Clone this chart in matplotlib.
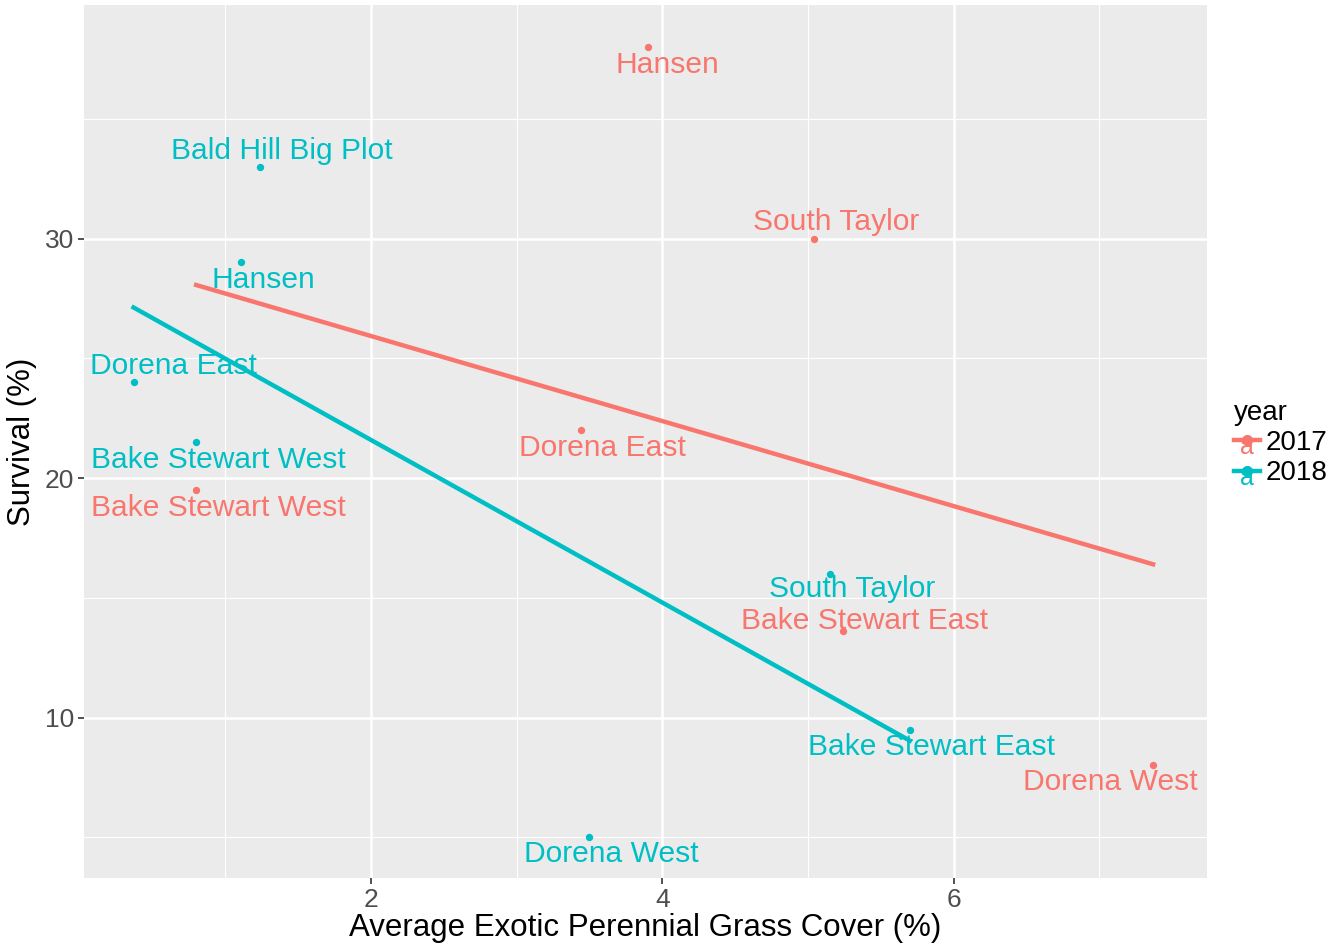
import numpy as np
import matplotlib
matplotlib.use("Agg")
import matplotlib.pyplot as plt
from matplotlib.lines import Line2D
from matplotlib.legend_handler import HandlerLine2D
from matplotlib.text import Text

plt.rcParams['font.family'] = ['Liberation Sans', 'DejaVu Sans']

# data
sites_2017 = ["Hansen", "South Taylor", "Dorena East", "Bake Stewart West",
              "Bake Stewart East", "Dorena West"]
cover_2017 = [3.90, 5.04, 3.44, 0.80, 5.24, 7.37]
surv_2017 = [38.0, 30.0, 22.0, 19.5, 13.6, 8.0]

sites_2018 = ["Bald Hill Big Plot", "Hansen", "Dorena East", "Bake Stewart West",
              "South Taylor", "Bake Stewart East", "Dorena West"]
cover_2018 = [1.24, 1.11, 0.37, 0.80, 5.15, 5.70, 3.50]
surv_2018 = [33.0, 29.0, 24.0, 21.5, 16.0, 9.5, 5.0]

years = ["2017", "2018"]
colors = {"2017": "#F8766D", "2018": "#00BFC4"}

# label offsets (pixels) relative to each point
offs_2017 = [(20, -18), (22, 17), (22, -18), (22, -18), (22, 10), (-43, -17)]
offs_2018 = [(22, 16), (22, -18), (40, 16), (22, -18), (22, -15), (22, -17), (22, -17)]

fig = plt.figure(figsize=(13.4, 9.47), dpi=100)
ax = fig.add_axes([84 / 1340, 1 - 878 / 947, (1207 - 84) / 1340, (878 - 5) / 947])
ax.set_facecolor("#EBEBEB")
for s in ax.spines.values():
    s.set_visible(False)

ax.set_xlim(0.03, 7.74)
ax.set_ylim(3.3, 39.75)
ax.set_xticks([2, 4, 6])
ax.set_yticks([10, 20, 30])
ax.set_xticks([1, 3, 5, 7], minor=True)
ax.set_yticks([5, 15, 25, 35], minor=True)
ax.grid(True, which="major", color="white", lw=1.8)
ax.grid(True, which="minor", color="white", lw=0.8)
ax.set_axisbelow(True)
ax.tick_params(which="major", length=4, width=1.2, color="#333333",
               labelsize=19, labelcolor="#4D4D4D", pad=3)
ax.tick_params(which="minor", length=0)

groups = [("2017", sites_2017, cover_2017, surv_2017, offs_2017),
          ("2018", sites_2018, cover_2018, surv_2018, offs_2018)]

for yr, sites, xs, ys, offs in groups:
    c = colors[yr]
    xs = np.array(xs)
    ys = np.array(ys)
    ax.scatter(xs, ys, s=28, color=c, zorder=3, linewidths=0)
    k, b = np.polyfit(xs, ys, 1)
    xx = np.array([xs.min(), xs.max()])
    ax.plot(xx, k * xx + b, color=c, lw=3.2, zorder=2)
    for name, x, y, (dx, dy) in zip(sites, xs, ys, offs):
        ax.annotate(name, (x, y), xytext=(dx * 0.72, dy * 0.72),
                    textcoords="offset points", ha="center", va="center",
                    color=c, fontsize=21.6, zorder=4)

ax.set_xlabel("Average Exotic Perennial Grass Cover (%)", fontsize=22.5, labelpad=1)
ax.set_ylabel("Survival (%)", fontsize=22.5, labelpad=6)


class HandlerWithA(HandlerLine2D):
    def create_artists(self, legend, orig_handle, xdescent, ydescent,
                       width, height, fontsize, trans):
        arts = super().create_artists(legend, orig_handle, xdescent, ydescent,
                                      width, height, fontsize, trans)
        t = Text(width / 2 - xdescent, height / 2 - ydescent - 5, "a",
                 color=orig_handle.get_color(), fontsize=fontsize * 0.9,
                 ha="center", va="center", transform=trans)
        return list(arts) + [t]


handles = [Line2D([], [], color=colors[y], lw=3.2, marker="o", markersize=7)
           for y in years]
leg = fig.legend(handles, years, title="year", loc="upper left",
                 bbox_to_anchor=(1234 / 1340, 1 - 400 / 947), frameon=False,
                 borderpad=0, borderaxespad=0,
                 fontsize=20, title_fontsize=20, handlelength=0.95,
                 handletextpad=0.18, labelspacing=0.15,
                 handler_map={Line2D: HandlerWithA()})
leg._legend_box.align = "left"
leg._legend_box._children[0].sep = 8

fig.savefig("out.png", dpi=100)
